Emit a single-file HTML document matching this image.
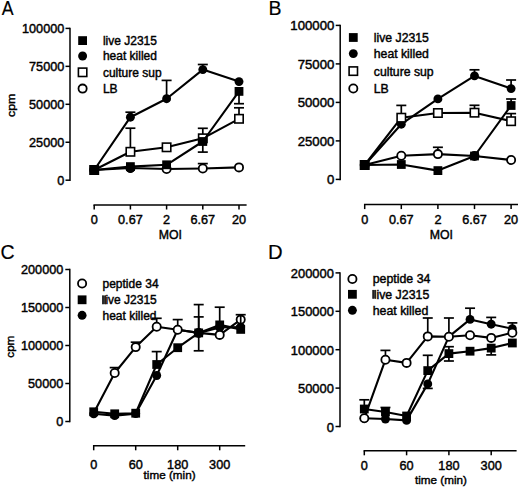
<!DOCTYPE html>
<html><head><meta charset="utf-8"><style>
html,body{margin:0;padding:0;background:#fff;}
body{width:520px;height:489px;overflow:hidden;}
svg{display:block;}
text{font-family:"Liberation Sans", sans-serif;fill:#000;stroke:#000;stroke-width:0.42px;}
</style></head><body>
<svg width="520" height="489" viewBox="0 0 520 489">
<rect width="520" height="489" fill="#fff"/>
<text x="0" y="0" font-size="19.5" style="stroke-width:0.15px" transform="translate(1.7 14.6) scale(0.91 1)">A</text>
<line x1="70.00" y1="27.65" x2="70.00" y2="180.95" stroke="#000" stroke-width="1.5"/>
<line x1="65.50" y1="180.20" x2="70.00" y2="180.20" stroke="#000" stroke-width="1.5"/>
<text transform="translate(64.30 185.15) scale(1.04 1)" font-size="12.2" text-anchor="end" >0</text>
<line x1="65.50" y1="142.25" x2="70.00" y2="142.25" stroke="#000" stroke-width="1.5"/>
<text transform="translate(64.30 147.20) scale(1.04 1)" font-size="12.2" text-anchor="end" >25000</text>
<line x1="65.50" y1="104.30" x2="70.00" y2="104.30" stroke="#000" stroke-width="1.5"/>
<text transform="translate(64.30 109.25) scale(1.04 1)" font-size="12.2" text-anchor="end" >50000</text>
<line x1="65.50" y1="66.35" x2="70.00" y2="66.35" stroke="#000" stroke-width="1.5"/>
<text transform="translate(64.30 71.30) scale(1.04 1)" font-size="12.2" text-anchor="end" >75000</text>
<line x1="65.50" y1="28.40" x2="70.00" y2="28.40" stroke="#000" stroke-width="1.5"/>
<text transform="translate(64.30 33.35) scale(1.04 1)" font-size="12.2" text-anchor="end" >100000</text>
<line x1="93.45" y1="205.00" x2="246.60" y2="205.00" stroke="#000" stroke-width="1.5"/>
<line x1="94.20" y1="205.00" x2="94.20" y2="209.50" stroke="#000" stroke-width="1.5"/>
<text transform="translate(94.20 223.60) scale(1.04 1)" font-size="12.2" text-anchor="middle" >0</text>
<line x1="130.40" y1="205.00" x2="130.40" y2="209.50" stroke="#000" stroke-width="1.5"/>
<text transform="translate(130.40 223.60) scale(1.04 1)" font-size="12.2" text-anchor="middle" >0.67</text>
<line x1="166.60" y1="205.00" x2="166.60" y2="209.50" stroke="#000" stroke-width="1.5"/>
<text transform="translate(166.60 223.60) scale(1.04 1)" font-size="12.2" text-anchor="middle" >2</text>
<line x1="202.80" y1="205.00" x2="202.80" y2="209.50" stroke="#000" stroke-width="1.5"/>
<text transform="translate(202.80 223.60) scale(1.04 1)" font-size="12.2" text-anchor="middle" >6.67</text>
<line x1="239.00" y1="205.00" x2="239.00" y2="209.50" stroke="#000" stroke-width="1.5"/>
<text transform="translate(239.00 223.60) scale(1.04 1)" font-size="12.2" text-anchor="middle" >20</text>
<text x="170.40" y="238.80" font-size="12.3" text-anchor="middle" >MOI</text>
<text x="0" y="0" font-size="12.3" text-anchor="middle" transform="translate(15.2 105.3) rotate(-90) scale(1 0.92)">cpm</text>
<polyline points="94.20,170.00 130.40,117.20 166.60,98.70 202.80,69.60 239.00,81.60" fill="none" stroke="#000" stroke-width="2.1" stroke-linejoin="round"/>
<line x1="130.40" y1="117.20" x2="130.40" y2="112.20" stroke="#000" stroke-width="1.7"/>
<line x1="125.40" y1="112.20" x2="135.40" y2="112.20" stroke="#000" stroke-width="1.7"/>
<line x1="166.60" y1="98.70" x2="166.60" y2="80.40" stroke="#000" stroke-width="1.7"/>
<line x1="161.60" y1="80.40" x2="171.60" y2="80.40" stroke="#000" stroke-width="1.7"/>
<line x1="202.80" y1="69.60" x2="202.80" y2="64.50" stroke="#000" stroke-width="1.7"/>
<line x1="197.80" y1="64.50" x2="207.80" y2="64.50" stroke="#000" stroke-width="1.7"/>
<circle cx="94.20" cy="170.00" r="4.45" fill="#000"/>
<circle cx="130.40" cy="117.20" r="4.45" fill="#000"/>
<circle cx="166.60" cy="98.70" r="4.45" fill="#000"/>
<circle cx="202.80" cy="69.60" r="4.45" fill="#000"/>
<circle cx="239.00" cy="81.60" r="4.45" fill="#000"/>
<polyline points="94.20,170.00 130.40,151.80 166.60,147.30 202.80,138.30 239.00,118.80" fill="none" stroke="#000" stroke-width="2.1" stroke-linejoin="round"/>
<line x1="130.40" y1="151.80" x2="130.40" y2="128.20" stroke="#000" stroke-width="1.7"/>
<line x1="125.40" y1="128.20" x2="135.40" y2="128.20" stroke="#000" stroke-width="1.7"/>
<line x1="202.80" y1="138.30" x2="202.80" y2="128.30" stroke="#000" stroke-width="1.7"/>
<line x1="197.80" y1="128.30" x2="207.80" y2="128.30" stroke="#000" stroke-width="1.7"/>
<line x1="239.00" y1="118.80" x2="239.00" y2="107.80" stroke="#000" stroke-width="1.7"/>
<line x1="234.00" y1="107.80" x2="244.00" y2="107.80" stroke="#000" stroke-width="1.7"/>
<rect x="90.00" y="165.80" width="8.40" height="8.40" fill="#fff" stroke="#000" stroke-width="1.6"/>
<rect x="126.20" y="147.60" width="8.40" height="8.40" fill="#fff" stroke="#000" stroke-width="1.6"/>
<rect x="162.40" y="143.10" width="8.40" height="8.40" fill="#fff" stroke="#000" stroke-width="1.6"/>
<rect x="198.60" y="134.10" width="8.40" height="8.40" fill="#fff" stroke="#000" stroke-width="1.6"/>
<rect x="234.80" y="114.60" width="8.40" height="8.40" fill="#fff" stroke="#000" stroke-width="1.6"/>
<polyline points="94.20,170.00 130.40,168.00 166.60,169.00 202.80,168.50 239.00,167.40" fill="none" stroke="#000" stroke-width="2.1" stroke-linejoin="round"/>
<line x1="202.80" y1="168.50" x2="202.80" y2="163.60" stroke="#000" stroke-width="1.7"/>
<line x1="197.80" y1="163.60" x2="207.80" y2="163.60" stroke="#000" stroke-width="1.7"/>
<circle cx="94.20" cy="170.00" r="4.10" fill="#fff" stroke="#000" stroke-width="1.8"/>
<circle cx="130.40" cy="168.00" r="4.10" fill="#fff" stroke="#000" stroke-width="1.8"/>
<circle cx="166.60" cy="169.00" r="4.10" fill="#fff" stroke="#000" stroke-width="1.8"/>
<circle cx="202.80" cy="168.50" r="4.10" fill="#fff" stroke="#000" stroke-width="1.8"/>
<circle cx="239.00" cy="167.40" r="4.10" fill="#fff" stroke="#000" stroke-width="1.8"/>
<circle cx="130.40" cy="168.40" r="4.45" fill="#000"/>
<polyline points="94.20,170.00 130.40,166.60 166.60,164.80 202.80,141.50 239.00,91.40" fill="none" stroke="#000" stroke-width="2.1" stroke-linejoin="round"/>
<line x1="202.80" y1="141.50" x2="202.80" y2="152.10" stroke="#000" stroke-width="1.7"/>
<line x1="197.80" y1="152.10" x2="207.80" y2="152.10" stroke="#000" stroke-width="1.7"/>
<line x1="239.00" y1="91.40" x2="239.00" y2="103.70" stroke="#000" stroke-width="1.7"/>
<line x1="234.00" y1="103.70" x2="244.00" y2="103.70" stroke="#000" stroke-width="1.7"/>
<rect x="89.80" y="165.60" width="8.8" height="8.8" fill="#000"/>
<rect x="126.00" y="162.20" width="8.8" height="8.8" fill="#000"/>
<rect x="162.20" y="160.40" width="8.8" height="8.8" fill="#000"/>
<rect x="198.40" y="137.10" width="8.8" height="8.8" fill="#000"/>
<rect x="234.60" y="87.00" width="8.8" height="8.8" fill="#000"/>
<rect x="78.20" y="36.20" width="8.8" height="8.8" fill="#000"/>
<text x="102.90" y="45.00" font-size="12.0" text-anchor="start" >live J2315</text>
<circle cx="82.60" cy="56.00" r="4.45" fill="#000"/>
<text x="102.90" y="60.40" font-size="12.0" text-anchor="start" >heat killed</text>
<rect x="78.40" y="68.10" width="8.40" height="8.40" fill="#fff" stroke="#000" stroke-width="1.6"/>
<text x="102.90" y="76.70" font-size="12.0" text-anchor="start" >culture sup</text>
<circle cx="82.60" cy="88.60" r="4.10" fill="#fff" stroke="#000" stroke-width="1.8"/>
<text x="102.90" y="93.00" font-size="12.0" text-anchor="start" >LB</text>
<text x="268.40" y="14.60" font-size="19.5" text-anchor="start" style="stroke-width:0.15px">B</text>
<line x1="340.20" y1="24.65" x2="340.20" y2="180.15" stroke="#000" stroke-width="1.5"/>
<line x1="335.70" y1="179.40" x2="340.20" y2="179.40" stroke="#000" stroke-width="1.5"/>
<text transform="translate(334.30 184.30) scale(1.08 1)" font-size="12.2" text-anchor="end" >0</text>
<line x1="335.70" y1="140.90" x2="340.20" y2="140.90" stroke="#000" stroke-width="1.5"/>
<text transform="translate(334.30 145.80) scale(1.08 1)" font-size="12.2" text-anchor="end" >25000</text>
<line x1="335.70" y1="102.40" x2="340.20" y2="102.40" stroke="#000" stroke-width="1.5"/>
<text transform="translate(334.30 107.30) scale(1.08 1)" font-size="12.2" text-anchor="end" >50000</text>
<line x1="335.70" y1="63.90" x2="340.20" y2="63.90" stroke="#000" stroke-width="1.5"/>
<text transform="translate(334.30 68.80) scale(1.08 1)" font-size="12.2" text-anchor="end" >75000</text>
<line x1="335.70" y1="25.40" x2="340.20" y2="25.40" stroke="#000" stroke-width="1.5"/>
<text transform="translate(334.30 30.30) scale(1.08 1)" font-size="12.2" text-anchor="end" >100000</text>
<line x1="363.95" y1="204.60" x2="518.00" y2="204.60" stroke="#000" stroke-width="1.5"/>
<line x1="364.70" y1="204.60" x2="364.70" y2="209.10" stroke="#000" stroke-width="1.5"/>
<text transform="translate(364.70 224.00) scale(1.04 1)" font-size="12.2" text-anchor="middle" >0</text>
<line x1="401.30" y1="204.60" x2="401.30" y2="209.10" stroke="#000" stroke-width="1.5"/>
<text transform="translate(401.30 224.00) scale(1.04 1)" font-size="12.2" text-anchor="middle" >0.67</text>
<line x1="437.90" y1="204.60" x2="437.90" y2="209.10" stroke="#000" stroke-width="1.5"/>
<text transform="translate(437.90 224.00) scale(1.04 1)" font-size="12.2" text-anchor="middle" >2</text>
<line x1="474.50" y1="204.60" x2="474.50" y2="209.10" stroke="#000" stroke-width="1.5"/>
<text transform="translate(474.50 224.00) scale(1.04 1)" font-size="12.2" text-anchor="middle" >6.67</text>
<line x1="511.10" y1="204.60" x2="511.10" y2="209.10" stroke="#000" stroke-width="1.5"/>
<text transform="translate(511.10 224.00) scale(1.04 1)" font-size="12.2" text-anchor="middle" >20</text>
<text x="441.30" y="238.50" font-size="12.3" text-anchor="middle" >MOI</text>
<polyline points="364.70,165.00 401.30,124.20 437.90,98.90 474.50,75.90 511.10,88.60" fill="none" stroke="#000" stroke-width="2.1" stroke-linejoin="round"/>
<line x1="474.50" y1="75.90" x2="474.50" y2="69.80" stroke="#000" stroke-width="1.7"/>
<line x1="469.50" y1="69.80" x2="479.50" y2="69.80" stroke="#000" stroke-width="1.7"/>
<line x1="511.10" y1="88.60" x2="511.10" y2="80.00" stroke="#000" stroke-width="1.7"/>
<line x1="506.10" y1="80.00" x2="516.10" y2="80.00" stroke="#000" stroke-width="1.7"/>
<circle cx="364.70" cy="165.00" r="4.45" fill="#000"/>
<circle cx="401.30" cy="124.20" r="4.45" fill="#000"/>
<circle cx="437.90" cy="98.90" r="4.45" fill="#000"/>
<circle cx="474.50" cy="75.90" r="4.45" fill="#000"/>
<circle cx="511.10" cy="88.60" r="4.45" fill="#000"/>
<polyline points="364.70,165.00 401.30,117.70 437.90,113.00 474.50,112.70 511.10,121.20" fill="none" stroke="#000" stroke-width="2.1" stroke-linejoin="round"/>
<line x1="401.30" y1="117.70" x2="401.30" y2="105.40" stroke="#000" stroke-width="1.7"/>
<line x1="396.30" y1="105.40" x2="406.30" y2="105.40" stroke="#000" stroke-width="1.7"/>
<line x1="474.50" y1="112.70" x2="474.50" y2="105.30" stroke="#000" stroke-width="1.7"/>
<line x1="469.50" y1="105.30" x2="479.50" y2="105.30" stroke="#000" stroke-width="1.7"/>
<line x1="511.10" y1="121.20" x2="511.10" y2="113.60" stroke="#000" stroke-width="1.7"/>
<line x1="506.10" y1="113.60" x2="516.10" y2="113.60" stroke="#000" stroke-width="1.7"/>
<rect x="360.50" y="160.80" width="8.40" height="8.40" fill="#fff" stroke="#000" stroke-width="1.6"/>
<rect x="397.10" y="113.50" width="8.40" height="8.40" fill="#fff" stroke="#000" stroke-width="1.6"/>
<rect x="433.70" y="108.80" width="8.40" height="8.40" fill="#fff" stroke="#000" stroke-width="1.6"/>
<rect x="470.30" y="108.50" width="8.40" height="8.40" fill="#fff" stroke="#000" stroke-width="1.6"/>
<rect x="506.90" y="117.00" width="8.40" height="8.40" fill="#fff" stroke="#000" stroke-width="1.6"/>
<polyline points="364.70,165.00 401.30,155.80 437.90,154.10 474.50,156.00 511.10,160.00" fill="none" stroke="#000" stroke-width="2.1" stroke-linejoin="round"/>
<line x1="437.90" y1="154.10" x2="437.90" y2="147.30" stroke="#000" stroke-width="1.7"/>
<line x1="432.90" y1="147.30" x2="442.90" y2="147.30" stroke="#000" stroke-width="1.7"/>
<circle cx="364.70" cy="165.00" r="4.10" fill="#fff" stroke="#000" stroke-width="1.8"/>
<circle cx="401.30" cy="155.80" r="4.10" fill="#fff" stroke="#000" stroke-width="1.8"/>
<circle cx="437.90" cy="154.10" r="4.10" fill="#fff" stroke="#000" stroke-width="1.8"/>
<circle cx="474.50" cy="156.00" r="4.10" fill="#fff" stroke="#000" stroke-width="1.8"/>
<circle cx="511.10" cy="160.00" r="4.10" fill="#fff" stroke="#000" stroke-width="1.8"/>
<polyline points="364.70,165.00 401.30,164.50 437.90,170.60 474.50,156.00 511.10,105.50" fill="none" stroke="#000" stroke-width="2.1" stroke-linejoin="round"/>
<line x1="511.10" y1="105.50" x2="511.10" y2="99.00" stroke="#000" stroke-width="1.7"/>
<line x1="506.10" y1="99.00" x2="516.10" y2="99.00" stroke="#000" stroke-width="1.7"/>
<rect x="360.30" y="160.60" width="8.8" height="8.8" fill="#000"/>
<rect x="396.90" y="160.10" width="8.8" height="8.8" fill="#000"/>
<rect x="433.50" y="166.20" width="8.8" height="8.8" fill="#000"/>
<rect x="470.10" y="151.60" width="8.8" height="8.8" fill="#000"/>
<rect x="506.70" y="101.10" width="8.8" height="8.8" fill="#000"/>
<rect x="348.90" y="33.10" width="8.8" height="8.8" fill="#000"/>
<text transform="translate(373.80 41.90) scale(1.02 1)" font-size="12.0" text-anchor="start" >live J2315</text>
<circle cx="353.30" cy="53.60" r="4.45" fill="#000"/>
<text transform="translate(373.80 58.00) scale(1.02 1)" font-size="12.0" text-anchor="start" >heat killed</text>
<rect x="349.10" y="66.90" width="8.40" height="8.40" fill="#fff" stroke="#000" stroke-width="1.6"/>
<text transform="translate(373.80 75.50) scale(1.02 1)" font-size="12.0" text-anchor="start" >culture sup</text>
<circle cx="353.30" cy="88.50" r="4.10" fill="#fff" stroke="#000" stroke-width="1.8"/>
<text transform="translate(373.80 92.90) scale(1.02 1)" font-size="12.0" text-anchor="start" >LB</text>
<text x="0.50" y="259.00" font-size="19.5" text-anchor="start" style="stroke-width:0.15px">C</text>
<line x1="69.80" y1="268.75" x2="69.80" y2="422.25" stroke="#000" stroke-width="1.5"/>
<line x1="65.30" y1="421.50" x2="69.80" y2="421.50" stroke="#000" stroke-width="1.5"/>
<text transform="translate(63.30 426.45) scale(1.04 1)" font-size="12.2" text-anchor="end" >0</text>
<line x1="65.30" y1="383.50" x2="69.80" y2="383.50" stroke="#000" stroke-width="1.5"/>
<text transform="translate(63.30 388.45) scale(1.04 1)" font-size="12.2" text-anchor="end" >50000</text>
<line x1="65.30" y1="345.50" x2="69.80" y2="345.50" stroke="#000" stroke-width="1.5"/>
<text transform="translate(63.30 350.45) scale(1.04 1)" font-size="12.2" text-anchor="end" >100000</text>
<line x1="65.30" y1="307.50" x2="69.80" y2="307.50" stroke="#000" stroke-width="1.5"/>
<text transform="translate(63.30 312.45) scale(1.04 1)" font-size="12.2" text-anchor="end" >150000</text>
<line x1="65.30" y1="269.50" x2="69.80" y2="269.50" stroke="#000" stroke-width="1.5"/>
<text transform="translate(63.30 274.45) scale(1.04 1)" font-size="12.2" text-anchor="end" >200000</text>
<line x1="92.95" y1="445.80" x2="245.20" y2="445.80" stroke="#000" stroke-width="1.5"/>
<line x1="93.70" y1="445.80" x2="93.70" y2="450.30" stroke="#000" stroke-width="1.5"/>
<text transform="translate(93.70 468.60) scale(1.04 1)" font-size="12.2" text-anchor="middle" >0</text>
<line x1="135.70" y1="445.80" x2="135.70" y2="450.30" stroke="#000" stroke-width="1.5"/>
<text transform="translate(135.70 468.60) scale(1.04 1)" font-size="12.2" text-anchor="middle" >60</text>
<line x1="177.70" y1="445.80" x2="177.70" y2="450.30" stroke="#000" stroke-width="1.5"/>
<text transform="translate(177.70 468.60) scale(1.04 1)" font-size="12.2" text-anchor="middle" >180</text>
<line x1="219.70" y1="445.80" x2="219.70" y2="450.30" stroke="#000" stroke-width="1.5"/>
<text transform="translate(219.70 468.60) scale(1.04 1)" font-size="12.2" text-anchor="middle" >300</text>
<text x="169.60" y="478.70" font-size="11.7" text-anchor="middle" >time (min)</text>
<text x="0" y="0" font-size="11.6" text-anchor="middle" transform="translate(14.2 346.7) rotate(-90) scale(1 0.92)">cpm</text>
<polyline points="93.70,413.80 114.70,415.60 135.70,413.60 156.70,375.50 177.70,329.80 198.70,332.90 219.70,327.50 240.70,327.00" fill="none" stroke="#000" stroke-width="2.1" stroke-linejoin="round"/>
<circle cx="93.70" cy="413.80" r="4.45" fill="#000"/>
<circle cx="114.70" cy="415.60" r="4.45" fill="#000"/>
<circle cx="135.70" cy="413.60" r="4.45" fill="#000"/>
<circle cx="156.70" cy="375.50" r="4.45" fill="#000"/>
<circle cx="177.70" cy="329.80" r="4.45" fill="#000"/>
<circle cx="198.70" cy="332.90" r="4.45" fill="#000"/>
<circle cx="219.70" cy="327.50" r="4.45" fill="#000"/>
<circle cx="240.70" cy="327.00" r="4.45" fill="#000"/>
<polyline points="93.70,413.00 114.70,373.00 135.70,347.10 156.70,326.70 177.70,329.70 198.70,332.90 219.70,334.90 240.70,319.60" fill="none" stroke="#000" stroke-width="2.1" stroke-linejoin="round"/>
<line x1="114.70" y1="373.00" x2="114.70" y2="367.60" stroke="#000" stroke-width="1.7"/>
<line x1="109.70" y1="367.60" x2="119.70" y2="367.60" stroke="#000" stroke-width="1.7"/>
<line x1="135.70" y1="347.10" x2="135.70" y2="342.20" stroke="#000" stroke-width="1.7"/>
<line x1="130.70" y1="342.20" x2="140.70" y2="342.20" stroke="#000" stroke-width="1.7"/>
<line x1="156.70" y1="326.70" x2="156.70" y2="318.30" stroke="#000" stroke-width="1.7"/>
<line x1="151.70" y1="318.30" x2="161.70" y2="318.30" stroke="#000" stroke-width="1.7"/>
<line x1="177.70" y1="329.70" x2="177.70" y2="319.60" stroke="#000" stroke-width="1.7"/>
<line x1="172.70" y1="319.60" x2="182.70" y2="319.60" stroke="#000" stroke-width="1.7"/>
<circle cx="114.70" cy="373.00" r="4.10" fill="#fff" stroke="#000" stroke-width="1.8"/>
<circle cx="135.70" cy="347.10" r="4.10" fill="#fff" stroke="#000" stroke-width="1.8"/>
<circle cx="156.70" cy="326.70" r="4.10" fill="#fff" stroke="#000" stroke-width="1.8"/>
<circle cx="177.70" cy="329.70" r="4.10" fill="#fff" stroke="#000" stroke-width="1.8"/>
<circle cx="198.70" cy="332.90" r="4.10" fill="#fff" stroke="#000" stroke-width="1.8"/>
<circle cx="219.70" cy="334.90" r="4.10" fill="#fff" stroke="#000" stroke-width="1.8"/>
<circle cx="240.70" cy="319.60" r="4.10" fill="#fff" stroke="#000" stroke-width="1.8"/>
<polyline points="93.70,411.80 114.70,413.80 135.70,413.20 156.70,364.50 177.70,347.70 198.70,332.90 219.70,324.90 240.70,329.40" fill="none" stroke="#000" stroke-width="2.1" stroke-linejoin="round"/>
<line x1="156.70" y1="364.50" x2="156.70" y2="351.60" stroke="#000" stroke-width="1.7"/>
<line x1="151.70" y1="351.60" x2="161.70" y2="351.60" stroke="#000" stroke-width="1.7"/>
<line x1="198.70" y1="332.90" x2="198.70" y2="304.60" stroke="#000" stroke-width="1.7"/>
<line x1="193.70" y1="304.60" x2="203.70" y2="304.60" stroke="#000" stroke-width="1.7"/>
<line x1="198.70" y1="332.90" x2="198.70" y2="316.90" stroke="#000" stroke-width="1.7"/>
<line x1="193.70" y1="316.90" x2="203.70" y2="316.90" stroke="#000" stroke-width="1.7"/>
<line x1="198.70" y1="332.90" x2="198.70" y2="350.80" stroke="#000" stroke-width="1.7"/>
<line x1="193.70" y1="350.80" x2="203.70" y2="350.80" stroke="#000" stroke-width="1.7"/>
<line x1="219.70" y1="324.90" x2="219.70" y2="307.20" stroke="#000" stroke-width="1.7"/>
<line x1="214.70" y1="307.20" x2="224.70" y2="307.20" stroke="#000" stroke-width="1.7"/>
<line x1="240.70" y1="329.40" x2="240.70" y2="314.70" stroke="#000" stroke-width="1.7"/>
<line x1="235.70" y1="314.70" x2="245.70" y2="314.70" stroke="#000" stroke-width="1.7"/>
<rect x="89.30" y="407.40" width="8.8" height="8.8" fill="#000"/>
<rect x="110.30" y="409.40" width="8.8" height="8.8" fill="#000"/>
<rect x="131.30" y="408.80" width="8.8" height="8.8" fill="#000"/>
<rect x="152.30" y="360.10" width="8.8" height="8.8" fill="#000"/>
<rect x="173.30" y="343.30" width="8.8" height="8.8" fill="#000"/>
<rect x="194.30" y="328.50" width="8.8" height="8.8" fill="#000"/>
<rect x="215.30" y="320.50" width="8.8" height="8.8" fill="#000"/>
<rect x="236.30" y="325.00" width="8.8" height="8.8" fill="#000"/>
<circle cx="82.10" cy="283.50" r="4.10" fill="#fff" stroke="#000" stroke-width="1.8"/>
<text x="102.50" y="287.90" font-size="12.0" text-anchor="start" >peptide 34</text>
<rect x="77.70" y="295.40" width="8.8" height="8.8" fill="#000"/>
<rect x="102.30" y="295.45" width="3.6" height="8.75" fill="#3c3c3c"/>
<rect x="102.30" y="295.45" width="1.1" height="8.75" fill="#111"/>
<rect x="104.90" y="295.45" width="1.0" height="8.75" fill="#222"/>
<text x="105.40" y="304.20" font-size="12.0" text-anchor="start" >ive J2315</text>
<circle cx="82.10" cy="315.30" r="4.45" fill="#000"/>
<text x="102.50" y="319.70" font-size="12.0" text-anchor="start" >heat killed</text>
<text transform="translate(268.00 258.90) scale(1.04 1)" font-size="19.5" text-anchor="start" style="stroke-width:0.15px">D</text>
<line x1="340.00" y1="272.15" x2="340.00" y2="427.25" stroke="#000" stroke-width="1.5"/>
<line x1="335.50" y1="426.50" x2="340.00" y2="426.50" stroke="#000" stroke-width="1.5"/>
<text transform="translate(333.90 431.50) scale(1.06 1)" font-size="12.2" text-anchor="end" >0</text>
<line x1="335.50" y1="388.10" x2="340.00" y2="388.10" stroke="#000" stroke-width="1.5"/>
<text transform="translate(333.90 393.10) scale(1.06 1)" font-size="12.2" text-anchor="end" >50000</text>
<line x1="335.50" y1="349.70" x2="340.00" y2="349.70" stroke="#000" stroke-width="1.5"/>
<text transform="translate(333.90 354.70) scale(1.06 1)" font-size="12.2" text-anchor="end" >100000</text>
<line x1="335.50" y1="311.30" x2="340.00" y2="311.30" stroke="#000" stroke-width="1.5"/>
<text transform="translate(333.90 316.30) scale(1.06 1)" font-size="12.2" text-anchor="end" >150000</text>
<line x1="335.50" y1="272.90" x2="340.00" y2="272.90" stroke="#000" stroke-width="1.5"/>
<text transform="translate(333.90 277.90) scale(1.06 1)" font-size="12.2" text-anchor="end" >200000</text>
<line x1="363.55" y1="450.80" x2="516.60" y2="450.80" stroke="#000" stroke-width="1.5"/>
<line x1="364.30" y1="450.80" x2="364.30" y2="455.30" stroke="#000" stroke-width="1.5"/>
<text transform="translate(364.30 470.00) scale(1.04 1)" font-size="12.2" text-anchor="middle" >0</text>
<line x1="406.60" y1="450.80" x2="406.60" y2="455.30" stroke="#000" stroke-width="1.5"/>
<text transform="translate(406.60 470.00) scale(1.04 1)" font-size="12.2" text-anchor="middle" >60</text>
<line x1="448.90" y1="450.80" x2="448.90" y2="455.30" stroke="#000" stroke-width="1.5"/>
<text transform="translate(448.90 470.00) scale(1.04 1)" font-size="12.2" text-anchor="middle" >180</text>
<line x1="491.20" y1="450.80" x2="491.20" y2="455.30" stroke="#000" stroke-width="1.5"/>
<text transform="translate(491.20 470.00) scale(1.04 1)" font-size="12.2" text-anchor="middle" >300</text>
<text x="441.00" y="484.00" font-size="11.7" text-anchor="middle" >time (min)</text>
<polyline points="364.30,418.30 385.45,419.00 406.60,420.40 427.75,383.90 448.90,336.60 470.05,319.40 491.20,324.20 512.35,328.70" fill="none" stroke="#000" stroke-width="2.1" stroke-linejoin="round"/>
<line x1="427.75" y1="383.90" x2="427.75" y2="388.40" stroke="#000" stroke-width="1.7"/>
<line x1="422.75" y1="388.40" x2="432.75" y2="388.40" stroke="#000" stroke-width="1.7"/>
<line x1="470.05" y1="319.40" x2="470.05" y2="308.20" stroke="#000" stroke-width="1.7"/>
<line x1="465.05" y1="308.20" x2="475.05" y2="308.20" stroke="#000" stroke-width="1.7"/>
<line x1="491.20" y1="324.20" x2="491.20" y2="317.40" stroke="#000" stroke-width="1.7"/>
<line x1="486.20" y1="317.40" x2="496.20" y2="317.40" stroke="#000" stroke-width="1.7"/>
<line x1="512.35" y1="328.70" x2="512.35" y2="322.90" stroke="#000" stroke-width="1.7"/>
<line x1="507.35" y1="322.90" x2="517.35" y2="322.90" stroke="#000" stroke-width="1.7"/>
<circle cx="364.30" cy="418.30" r="4.45" fill="#000"/>
<circle cx="385.45" cy="419.00" r="4.45" fill="#000"/>
<circle cx="406.60" cy="420.40" r="4.45" fill="#000"/>
<circle cx="427.75" cy="383.90" r="4.45" fill="#000"/>
<circle cx="448.90" cy="336.60" r="4.45" fill="#000"/>
<circle cx="470.05" cy="319.40" r="4.45" fill="#000"/>
<circle cx="491.20" cy="324.20" r="4.45" fill="#000"/>
<circle cx="512.35" cy="328.70" r="4.45" fill="#000"/>
<polyline points="364.30,418.30 385.45,359.70 406.60,362.90 427.75,336.40 448.90,336.80 470.05,335.20 491.20,337.90 512.35,332.70" fill="none" stroke="#000" stroke-width="2.1" stroke-linejoin="round"/>
<line x1="385.45" y1="359.70" x2="385.45" y2="350.40" stroke="#000" stroke-width="1.7"/>
<line x1="380.45" y1="350.40" x2="390.45" y2="350.40" stroke="#000" stroke-width="1.7"/>
<line x1="427.75" y1="336.40" x2="427.75" y2="318.00" stroke="#000" stroke-width="1.7"/>
<line x1="422.75" y1="318.00" x2="432.75" y2="318.00" stroke="#000" stroke-width="1.7"/>
<line x1="448.90" y1="336.80" x2="448.90" y2="318.00" stroke="#000" stroke-width="1.7"/>
<line x1="443.90" y1="318.00" x2="453.90" y2="318.00" stroke="#000" stroke-width="1.7"/>
<circle cx="364.30" cy="418.30" r="4.10" fill="#fff" stroke="#000" stroke-width="1.8"/>
<circle cx="385.45" cy="359.70" r="4.10" fill="#fff" stroke="#000" stroke-width="1.8"/>
<circle cx="406.60" cy="362.90" r="4.10" fill="#fff" stroke="#000" stroke-width="1.8"/>
<circle cx="427.75" cy="336.40" r="4.10" fill="#fff" stroke="#000" stroke-width="1.8"/>
<circle cx="448.90" cy="336.80" r="4.10" fill="#fff" stroke="#000" stroke-width="1.8"/>
<circle cx="470.05" cy="335.20" r="4.10" fill="#fff" stroke="#000" stroke-width="1.8"/>
<circle cx="491.20" cy="337.90" r="4.10" fill="#fff" stroke="#000" stroke-width="1.8"/>
<circle cx="512.35" cy="332.70" r="4.10" fill="#fff" stroke="#000" stroke-width="1.8"/>
<polyline points="364.30,409.00 385.45,412.00 406.60,416.00 427.75,370.60 448.90,353.60 470.05,351.20 491.20,348.10 512.35,343.00" fill="none" stroke="#000" stroke-width="2.1" stroke-linejoin="round"/>
<line x1="364.30" y1="409.00" x2="364.30" y2="399.80" stroke="#000" stroke-width="1.7"/>
<line x1="359.30" y1="399.80" x2="369.30" y2="399.80" stroke="#000" stroke-width="1.7"/>
<line x1="385.45" y1="412.00" x2="385.45" y2="407.50" stroke="#000" stroke-width="1.7"/>
<line x1="380.45" y1="407.50" x2="390.45" y2="407.50" stroke="#000" stroke-width="1.7"/>
<line x1="427.75" y1="370.60" x2="427.75" y2="355.30" stroke="#000" stroke-width="1.7"/>
<line x1="422.75" y1="355.30" x2="432.75" y2="355.30" stroke="#000" stroke-width="1.7"/>
<line x1="448.90" y1="353.60" x2="448.90" y2="346.70" stroke="#000" stroke-width="1.7"/>
<line x1="443.90" y1="346.70" x2="453.90" y2="346.70" stroke="#000" stroke-width="1.7"/>
<line x1="448.90" y1="353.60" x2="448.90" y2="361.00" stroke="#000" stroke-width="1.7"/>
<line x1="443.90" y1="361.00" x2="453.90" y2="361.00" stroke="#000" stroke-width="1.7"/>
<line x1="491.20" y1="348.10" x2="491.20" y2="354.90" stroke="#000" stroke-width="1.7"/>
<line x1="486.20" y1="354.90" x2="496.20" y2="354.90" stroke="#000" stroke-width="1.7"/>
<rect x="359.90" y="404.60" width="8.8" height="8.8" fill="#000"/>
<rect x="381.05" y="407.60" width="8.8" height="8.8" fill="#000"/>
<rect x="402.20" y="411.60" width="8.8" height="8.8" fill="#000"/>
<rect x="423.35" y="366.20" width="8.8" height="8.8" fill="#000"/>
<rect x="444.50" y="349.20" width="8.8" height="8.8" fill="#000"/>
<rect x="465.65" y="346.80" width="8.8" height="8.8" fill="#000"/>
<rect x="486.80" y="343.70" width="8.8" height="8.8" fill="#000"/>
<rect x="507.95" y="338.60" width="8.8" height="8.8" fill="#000"/>
<circle cx="352.40" cy="279.00" r="4.10" fill="#fff" stroke="#000" stroke-width="1.8"/>
<text transform="translate(372.70 283.40) scale(1.03 1)" font-size="12.0" text-anchor="start" >peptide 34</text>
<rect x="348.00" y="289.90" width="8.8" height="8.8" fill="#000"/>
<rect x="372.50" y="289.95" width="3.6" height="8.75" fill="#3c3c3c"/>
<rect x="372.50" y="289.95" width="1.1" height="8.75" fill="#111"/>
<rect x="375.10" y="289.95" width="1.0" height="8.75" fill="#222"/>
<text transform="translate(376.40 298.70) scale(1.03 1)" font-size="12.0" text-anchor="start" >ive J2315</text>
<circle cx="352.40" cy="310.30" r="4.45" fill="#000"/>
<text transform="translate(372.70 314.70) scale(1.03 1)" font-size="12.0" text-anchor="start" >heat killed</text>
</svg>
</body></html>
